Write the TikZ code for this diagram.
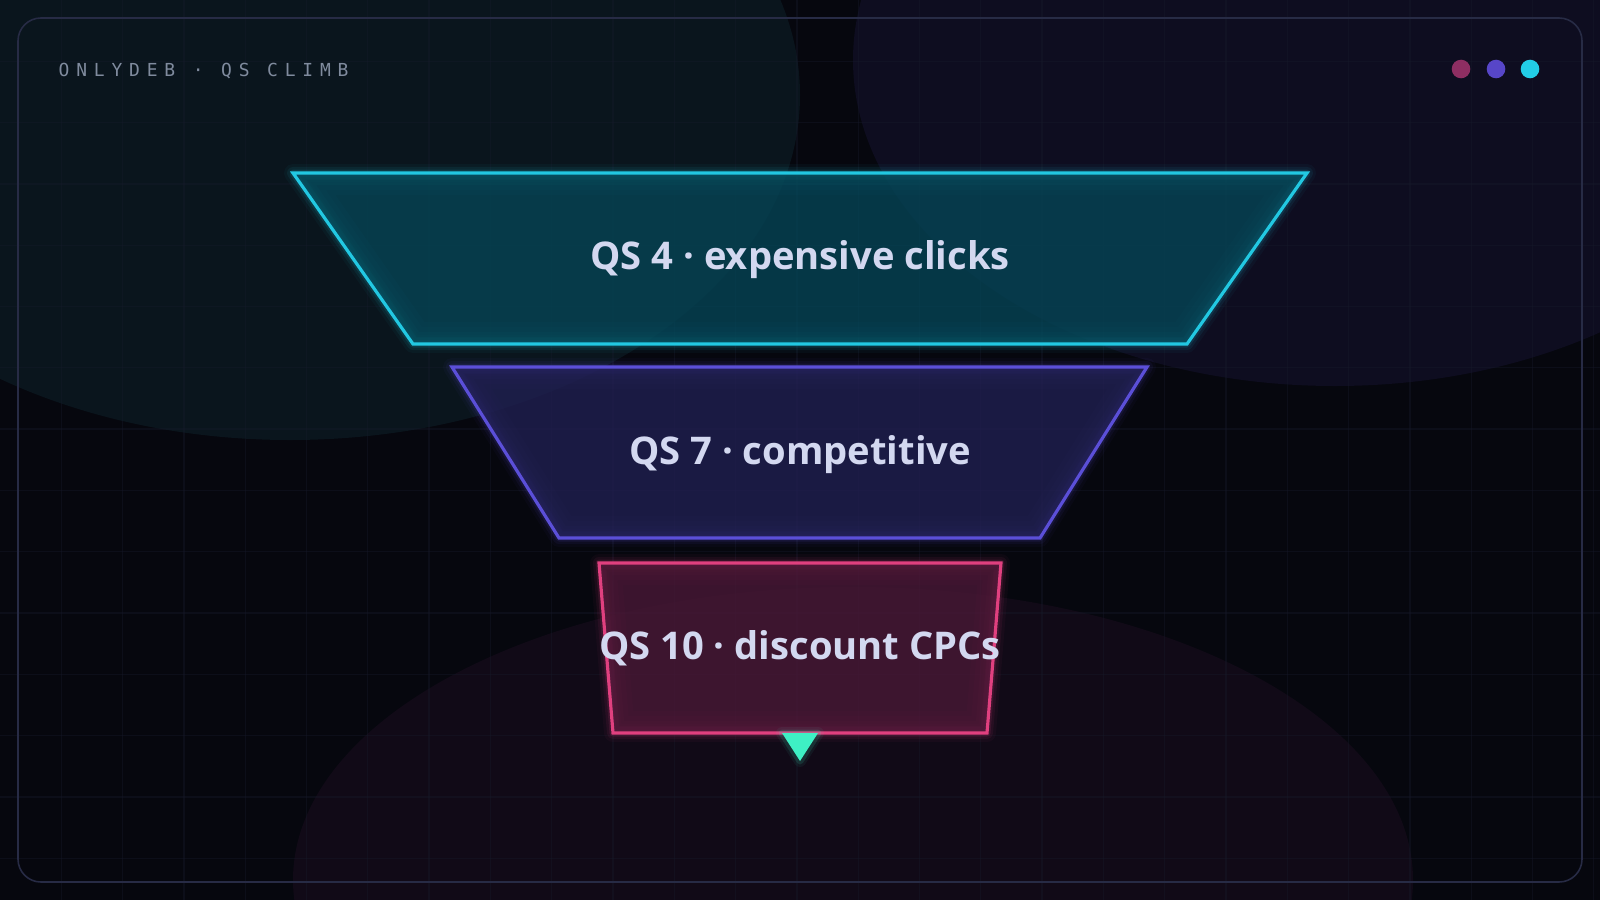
\documentclass[tikz,border=0pt]{standalone}
\usepackage{fontspec}
\newfontfamily\labelfont{Open Sans}
\newfontfamily\monof{DejaVu Sans Mono}[LetterSpace=38]
\definecolor{bg}{HTML}{06070E}
\definecolor{blobteal}{HTML}{0A151D}
\definecolor{blobpurple}{HTML}{0E0D20}
\definecolor{blobpink}{HTML}{110A17}
\definecolor{gridc}{HTML}{161A2A}
\definecolor{framec}{HTML}{272B45}
\definecolor{titlec}{HTML}{808B9E}
\definecolor{labelc}{HTML}{D3D8F0}
\definecolor{cyanc}{HTML}{22C8E2}
\definecolor{purplec}{HTML}{5B4FD8}
\definecolor{pinkc}{HTML}{E0407F}
\definecolor{mintc}{HTML}{3EF0C4}
\definecolor{fillcyan}{HTML}{054455}
\definecolor{fillpurple}{HTML}{201F51}
\definecolor{fillpink}{HTML}{491836}
\definecolor{dotA}{HTML}{8E2E62}
\definecolor{dotB}{HTML}{5746C8}
\definecolor{dotC}{HTML}{22CDE6}
\tikzset{
  lbl/.style={font=\labelfont\bfseries\fontsize{10.85}{13}\selectfont, text=labelc, inner sep=0},
  outline/.style={line width=0.9pt, line join=miter},
}
\begin{document}
\begin{tikzpicture}[x=0.01cm,y=-0.01cm]
\useasboundingbox (0,0) rectangle (1600,900);
\fill[bg] (0,0) rectangle (1600,900);
\begin{scope}
  \clip (0,0) rectangle (1600,900);
  \fill[blobteal] (290,95) ellipse [x radius=510, y radius=345];
  \fill[blobpurple] (1335,60) ellipse [x radius=482, y radius=326];
  \fill[blobpink] (853,880) ellipse [x radius=560, y radius=293];
  \foreach \i in {1,...,26} \draw[gridc, line width=0.35pt, opacity=0.4] (\i*61.3,0) -- (\i*61.3,900);
  \foreach \i in {1,...,14} \draw[gridc, line width=0.35pt, opacity=0.4] (0,\i*61.3) -- (1600,\i*61.3);
\end{scope}
\draw[framec, line width=0.45pt, rounded corners=6.5pt] (18,18) rectangle (1582,882);
\node[anchor=west, inner sep=0, font=\monof\fontsize{5.1}{6}\selectfont, text=titlec] (title) at (58,71) {ONLYDEB · QS CLIMB};
\fill[dotA] (1461,69) circle [radius=9.3];
\fill[dotB] (1496,69) circle [radius=9.3];
\fill[dotC] (1530,69) circle [radius=9.3];
% top stage
\foreach \w/\o in {18/0.04,12/0.07,7/0.12}
  \draw[cyanc, line width=\w*0.2845pt, opacity=\o, line join=round] (293,173)--(1307,173)--(1187,344)--(413,344)--cycle;
\fill[fillcyan, fill opacity=0.8] (293,173)--(1307,173)--(1187,344)--(413,344)--cycle;
\begin{scope}
  \clip (293,173)--(1307,173)--(1187,344)--(413,344)--cycle;
  \foreach \w/\o in {44/0.02,34/0.02,24/0.025,14/0.03}
    \draw[cyanc, line width=\w*0.2845pt, opacity=\o, line join=round] (293,173)--(1307,173)--(1187,344)--(413,344)--cycle;
\end{scope}
\draw[cyanc, outline] (293,173)--(1307,173)--(1187,344)--(413,344)--cycle;
% middle stage
\foreach \w/\o in {18/0.04,12/0.07,7/0.12}
  \draw[purplec, line width=\w*0.2845pt, opacity=\o, line join=round] (452,367)--(1147,367)--(1040,538)--(559,538)--cycle;
\fill[fillpurple, fill opacity=0.8] (452,367)--(1147,367)--(1040,538)--(559,538)--cycle;
\begin{scope}
  \clip (452,367)--(1147,367)--(1040,538)--(559,538)--cycle;
  \foreach \w/\o in {44/0.02,34/0.02,24/0.025,14/0.03}
    \draw[purplec, line width=\w*0.2845pt, opacity=\o, line join=round] (452,367)--(1147,367)--(1040,538)--(559,538)--cycle;
\end{scope}
\draw[purplec, outline] (452,367)--(1147,367)--(1040,538)--(559,538)--cycle;
% bottom stage
\foreach \w/\o in {18/0.04,12/0.07,7/0.12}
  \draw[pinkc, line width=\w*0.2845pt, opacity=\o, line join=round] (599,563)--(1001,563)--(987,733)--(613,733)--cycle;
\fill[fillpink, fill opacity=0.8] (599,563)--(1001,563)--(987,733)--(613,733)--cycle;
\begin{scope}
  \clip (599,563)--(1001,563)--(987,733)--(613,733)--cycle;
  \foreach \w/\o in {44/0.02,34/0.02,24/0.025,14/0.03}
    \draw[pinkc, line width=\w*0.2845pt, opacity=\o, line join=round] (599,563)--(1001,563)--(987,733)--(613,733)--cycle;
\end{scope}
\draw[pinkc, outline] (599,563)--(1001,563)--(987,733)--(613,733)--cycle;
% arrow tip
\foreach \w/\o in {12/0.06,7/0.12}
  \draw[mintc, line width=\w*0.2845pt, opacity=\o, line join=round] (782,733)--(818,733)--(800,761)--cycle;
\fill[mintc] (782,733)--(818,733)--(800,761)--cycle;
% labels
\node[lbl] (s1) at (800,260) {QS 4 · expensive clicks};
\node[lbl] (s2) at (800,455) {QS 7 · competitive};
\node[lbl] (s3) at (800,648) {QS 10 · discount CPCs};
\end{tikzpicture}
\end{document}
